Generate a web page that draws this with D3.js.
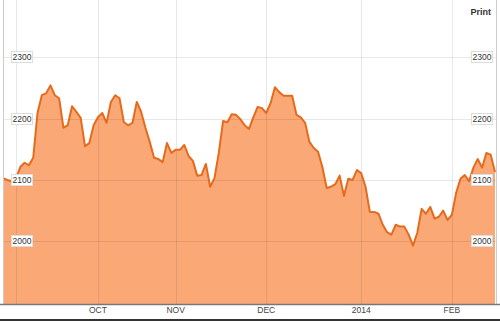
<!DOCTYPE html>
<html>
<head>
<meta charset="utf-8">
<script src="https://cdn.jsdelivr.net/npm/d3@7"></script>
<style>
  body { margin: 0; background: #fff; }
  svg { display: block; font-family: "Liberation Sans", Arial, sans-serif; }
</style>
</head>
<body>
<div id="chart"></div>
<script>
// closing values, one per session
const values = [
  2103, 2100, 2098, 2102, 2121, 2128, 2124, 2136, 2209, 2238,
  2241, 2254, 2238, 2233, 2185, 2189, 2220, 2211, 2201, 2155,
  2160, 2189, 2202, 2209, 2193, 2227, 2238, 2233, 2194, 2189,
  2193, 2227, 2211, 2185, 2162, 2136, 2134, 2129, 2160, 2144,
  2149, 2149, 2157, 2139, 2131, 2107, 2108, 2126, 2089, 2103,
  2144, 2196, 2194, 2207, 2206, 2199, 2189, 2183, 2202, 2219,
  2217, 2209, 2225, 2251, 2243, 2237, 2237, 2237, 2206, 2202,
  2193, 2162, 2152, 2146, 2121, 2087, 2089, 2093, 2107, 2074,
  2102, 2100, 2116, 2111, 2089, 2048, 2048, 2045, 2027, 2015,
  2011, 2027, 2024, 2024, 2011, 1993, 2014, 2053, 2045, 2056,
  2037, 2040, 2050, 2035, 2043, 2079, 2102, 2108, 2098, 2120,
  2134, 2120, 2144, 2141, 2113
];

// month boundaries as session index
const monthLabels = ["", "OCT", "NOV", "DEC", "2014", "FEB"];
const monthIndex = [3, 22, 40, 61, 83, 104];

const yTicks = [2000, 2100, 2200, 2300];

let width = 500,
    height = 321,
    margin = ({ top: 0, right: 4, bottom: 17, left: 3 });

const svg = d3.select("#chart")
  .append("svg")
  .attr("width", width)
  .attr("height", height);

let x = d3.scaleLinear()
  .domain([0, values.length - 1])
  .range([margin.left, width - margin.right - 1]);

let y = d3.scaleLinear()
  .domain([1898, 2393])
  .range([height - margin.bottom, margin.top]);

const area = d3.area()
  .x((d, i) => x(i))
  .y0(y(1898))
  .y1(d => y(d));

const line = d3.line()
  .x((d, i) => x(i))
  .y(d => y(d));

// fill first, grid drawn over it
svg.append("path")
  .datum(values)
  .attr("fill", "#fba877")
  .attr("d", area);

const grid = svg.append("g")
  .attr("stroke", "#000")
  .attr("stroke-opacity", 0.09)
  .attr("stroke-width", 1);

grid.selectAll("line.h")
  .data(yTicks)
  .join("line")
  .attr("class", "h")
  .attr("x1", margin.left)
  .attr("x2", width - margin.right)
  .attr("y1", d => Math.round(y(d)) + 0.5)
  .attr("y2", d => Math.round(y(d)) + 0.5);

grid.selectAll("line.v")
  .data(monthIndex)
  .join("line")
  .attr("class", "v")
  .attr("x1", d => Math.round(x(d)) + 0.5)
  .attr("x2", d => Math.round(x(d)) + 0.5)
  .attr("y1", 0)
  .attr("y2", height - margin.bottom);

svg.append("path")
  .datum(values)
  .attr("fill", "none")
  .attr("stroke", "#e56b1c")
  .attr("stroke-width", 2)
  .attr("stroke-linejoin", "round")
  .attr("d", line);

// frame
svg.append("line")
  .attr("x1", margin.left + 0.5).attr("x2", margin.left + 0.5)
  .attr("y1", 0).attr("y2", height - margin.bottom)
  .attr("stroke", "#ccc");
svg.append("line")
  .attr("x1", width - margin.right + 0.5).attr("x2", width - margin.right + 0.5)
  .attr("y1", 0).attr("y2", height - margin.bottom)
  .attr("stroke", "#ccc");
svg.append("line")
  .attr("x1", 0).attr("x2", width)
  .attr("y1", height - margin.bottom + 0.5).attr("y2", height - margin.bottom + 0.5)
  .attr("stroke", "#777")
  .attr("stroke-width", 1.5);
svg.append("rect")
  .attr("x", 0).attr("y", height - 2)
  .attr("width", width).attr("height", 2)
  .attr("fill", "#333");

// x labels
svg.append("g")
  .selectAll("text")
  .data(monthIndex)
  .join("text")
  .attr("x", d => x(d))
  .attr("y", height - 8)
  .attr("text-anchor", "middle")
  .attr("font-size", 8.5)
  .attr("fill", "#444")
  .text((d, i) => monthLabels[i]);

// y labels in little boxes, both sides
function yLabels(cx) {
  const g = svg.append("g")
    .selectAll("g")
    .data(yTicks)
    .join("g")
    .attr("transform", d => `translate(${cx},${Math.round(y(d))})`);
  g.append("rect")
    .attr("x", -10.5).attr("y", -5.5)
    .attr("width", 21).attr("height", 11)
    .attr("fill", "#fff")
    .attr("stroke", "#ddd");
  g.append("text")
    .attr("text-anchor", "middle")
    .attr("dy", "0.35em")
    .attr("font-size", 8.5)
    .attr("fill", "#333")
    .text(d => d);
}
yLabels(22);
yLabels(482);

svg.append("text")
  .attr("x", 491)
  .attr("y", 15)
  .attr("text-anchor", "end")
  .attr("font-size", 9)
  .attr("font-weight", "bold")
  .attr("fill", "#333")
  .text("Print");
</script>
</body>
</html>
